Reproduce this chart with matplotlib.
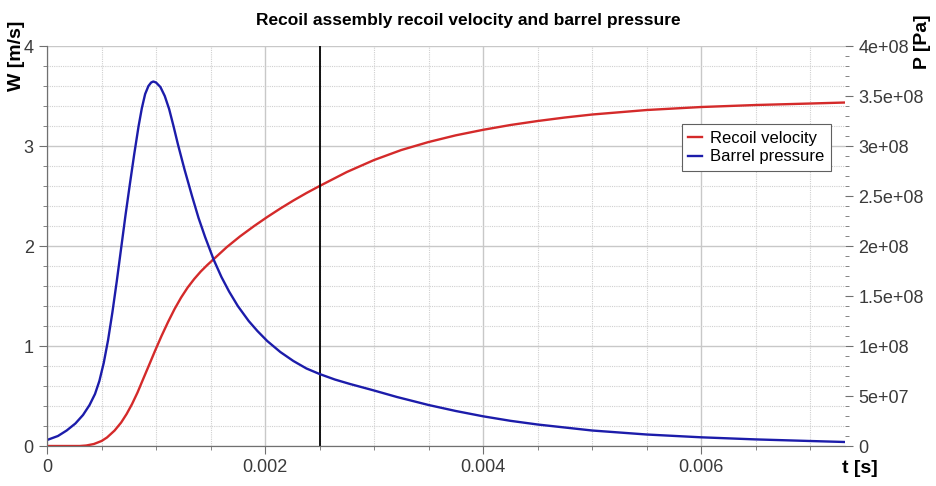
import matplotlib
matplotlib.use("Agg")
import matplotlib.pyplot as plt
from matplotlib.ticker import MultipleLocator, FuncFormatter

plt.rcParams['font.family'] = ['Liberation Sans', 'DejaVu Sans']

# recoil velocity, t in ms, W in m/s
t_vel = [0, 0.3, 0.36, 0.43, 0.5, 0.55, 0.62, 0.68, 0.73, 0.78, 0.83, 0.88, 0.94,
         0.99, 1.05, 1.11, 1.17, 1.23, 1.29, 1.35, 1.41, 1.47, 1.53, 1.65, 1.77, 1.9,
         2.02, 2.14, 2.26, 2.38, 2.5, 2.75, 3.0, 3.25, 3.5, 3.75, 4.0, 4.25, 4.5,
         4.75, 5.0, 5.5, 6.0, 6.5, 7.0, 7.32]
vel = [0, 0, 0.005, 0.02, 0.05, 0.085, 0.155, 0.235, 0.32, 0.42, 0.535, 0.665, 0.82,
       0.95, 1.10, 1.24, 1.37, 1.485, 1.585, 1.67, 1.745, 1.81, 1.87, 1.99, 2.096,
       2.2, 2.29, 2.375, 2.455, 2.53, 2.6, 2.74, 2.86, 2.96, 3.04, 3.107, 3.162,
       3.21, 3.25, 3.285, 3.315, 3.36, 3.39, 3.41, 3.425, 3.435]

# barrel pressure, t in ms, P in 1e8 Pa
t_pres = [0, 0.1, 0.18, 0.26, 0.33, 0.39, 0.44, 0.48, 0.52, 0.56, 0.6, 0.64, 0.68,
          0.72, 0.76, 0.8, 0.84, 0.87, 0.9, 0.93, 0.955, 0.975, 1.0, 1.04, 1.08,
          1.12, 1.16, 1.2, 1.26, 1.33, 1.39, 1.45, 1.53, 1.6, 1.67, 1.75, 1.85, 1.93,
          2.02, 2.14, 2.26, 2.38, 2.5, 2.64, 2.78, 3.0, 3.21, 3.5, 3.75, 4.0, 4.25,
          4.5, 5.0, 5.5, 6.0, 6.5, 7.0, 7.32]
pres = [0.06, 0.1, 0.155, 0.225, 0.31, 0.41, 0.52, 0.65, 0.83, 1.06, 1.34, 1.65,
        1.98, 2.31, 2.62, 2.92, 3.2, 3.38, 3.52, 3.6, 3.635, 3.645, 3.635, 3.59,
        3.5, 3.37, 3.2, 3.02, 2.77, 2.5, 2.28, 2.09, 1.86, 1.69, 1.545, 1.4, 1.25,
        1.15, 1.05, 0.94, 0.85, 0.775, 0.72, 0.665, 0.62, 0.555, 0.49, 0.41, 0.35,
        0.297, 0.252, 0.215, 0.155, 0.115, 0.087, 0.066, 0.05, 0.04]

marker_t = 0.0025
t_max = 0.00732

fig = plt.figure(figsize=(9.37, 4.86), dpi=100)
ax = fig.add_axes([0.0502, 0.0823, 0.8516, 0.823])
ax2 = ax.twinx()

red = '#d42a2a'
blue = '#1c1caa'
ax.plot([t * 1e-3 for t in t_vel], vel, color=red, lw=1.7, label='Recoil velocity',
        solid_joinstyle='round')
ax2.plot([t * 1e-3 for t in t_pres], [p * 1e8 for p in pres], color=blue, lw=1.7,
         label='Barrel pressure', solid_joinstyle='round')
ax.axvline(marker_t, color='black', lw=1.3)

ax.set_xlim(0, t_max)
ax.set_ylim(0, 4)
ax2.set_ylim(0, 4e8)

ax.xaxis.set_major_locator(MultipleLocator(0.002))
ax.xaxis.set_minor_locator(MultipleLocator(0.0005))
ax.yaxis.set_major_locator(MultipleLocator(1))
ax.yaxis.set_minor_locator(MultipleLocator(0.2))
ax2.yaxis.set_major_locator(MultipleLocator(5e7))
ax2.yaxis.set_minor_locator(MultipleLocator(1e7))
ax.xaxis.set_major_formatter(FuncFormatter(lambda v, p: '%g' % round(v, 6)))
ax2.yaxis.set_major_formatter(FuncFormatter(lambda v, p: '%g' % v))

ax.grid(True, which='major', color='#c8c8c8', lw=1.0)
ax.grid(True, which='minor', color='#d0d0d0', lw=0.8, ls=(0, (1, 1)))

for a in (ax, ax2):
    a.spines['top'].set_visible(False)
    a.spines['right'].set_visible(False)
    a.spines['left'].set_color('#707070')
    a.spines['bottom'].set_color('#707070')
    a.tick_params(which='both', colors='#707070', labelcolor='#3a3a3a', labelsize=13)
    a.tick_params(which='major', length=6)
    a.tick_params(which='minor', length=3)

fig.text(0.5, 0.957, 'Recoil assembly recoil velocity and barrel pressure',
         ha='center', va='center', fontsize=12.5, fontweight='bold')
fig.text(0.018, 0.885, 'W [m/s]', rotation=90, ha='center', va='center',
         fontsize=14, fontweight='bold')
fig.text(0.985, 0.915, 'P [Pa]', rotation=90, ha='center', va='center',
         fontsize=14, fontweight='bold')
fig.text(0.918, 0.035, 't [s]', ha='center', va='center', fontsize=14, fontweight='bold')

h1, l1 = ax.get_legend_handles_labels()
h2, l2 = ax2.get_legend_handles_labels()
leg = ax2.legend(h1 + h2, l1 + l2, loc='upper left', bbox_to_anchor=(0.785, 0.825),
                 fontsize=12, handlelength=0.8, fancybox=False, framealpha=1,
                 edgecolor='#606060', borderpad=0.4, labelspacing=0.2, handletextpad=0.5)
leg.get_frame().set_linewidth(0.8)

fig.savefig('out.png', dpi=100)
